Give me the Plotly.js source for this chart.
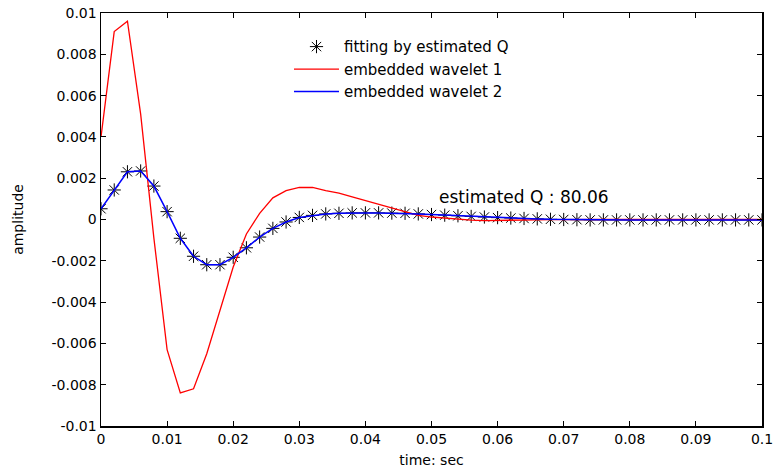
<!DOCTYPE html>
<html><head><meta charset="utf-8">
<script src="https://cdn.plot.ly/plotly-3.0.1.min.js"></script>
<style>html,body{margin:0;padding:0;background:#fff;}#chart{width:774px;height:473px;}</style>
</head><body><div id="chart"></div>
<script>
var timeSec = [0,0.002,0.004,0.006,0.008,0.010,0.012,0.014,0.016,0.018,
  0.020,0.022,0.024,0.026,0.028,0.030,0.032,0.034,0.036,0.038,
  0.040,0.042,0.044,0.046,0.048,0.050,0.052,0.054,0.056,0.058,
  0.060,0.062,0.064,0.066,0.068,0.070,0.072,0.074,0.076,0.078,
  0.080,0.082,0.084,0.086,0.088,0.090,0.092,0.094,0.096,0.098,0.100];

var wavelet1 = [0.0040,0.0091,0.0096,0.0051,-0.0009,-0.0063,-0.0084,-0.0082,-0.0065,-0.0044,
  -0.0023,-0.0007,0.0003,0.00105,0.0014,0.00155,0.00155,0.0014,0.00128,0.0011,
  0.00092,0.00073,0.00055,0.00035,0.0002,0.00012,0.00006,0.0,-0.00003,-0.00005,
  -0.00005,-0.00004,-0.00003,-0.00002,-0.00001,0,0,0,0,0,
  0,0,0,0,0,0,0,0,0,0,0];

var wavelet2 = [0.00052,0.00143,0.00231,0.00235,0.00162,0.00038,-0.00091,-0.00178,-0.00219,-0.00219,
  -0.00183,-0.00137,-0.00085,-0.00043,-0.00012,0.0001,0.0002,0.00027,0.0003,0.00032,
  0.00032,0.00032,0.00031,0.0003,0.00027,0.00024,0.00021,0.00018,0.00015,0.00012,
  0.00009,0.00007,0.00005,0.00003,0.00001,0,-0.00001,-0.00002,-0.00002,-0.00002,
  -0.00002,-0.00002,-0.00002,-0.00002,-0.00002,-0.00002,-0.00002,-0.00002,-0.00002,-0.00002,-0.00002];

var fitEstimatedQ = [0.00052,0.00143,0.00231,0.00235,0.00162,0.00038,-0.00091,-0.00178,-0.00219,-0.00219,
  -0.00183,-0.00137,-0.00085,-0.00043,-0.00012,0.0001,0.0002,0.00027,0.0003,0.00032,
  0.00032,0.00032,0.00031,0.0003,0.00027,0.00024,0.00021,0.00018,0.00015,0.00012,
  0.00009,0.00007,0.00005,0.00003,0.00001,0,-0.00001,-0.00002,-0.00002,-0.00002,
  -0.00002,-0.00002,-0.00002,-0.00002,-0.00002,-0.00002,-0.00002,-0.00002,-0.00002,-0.00002,-0.00002];

var xTickVals = [0,0.01,0.02,0.03,0.04,0.05,0.06,0.07,0.08,0.09,0.1];
var xTickText = ["0","0.01","0.02","0.03","0.04","0.05","0.06","0.07","0.08","0.09","0.1"];
var yTickVals = [0.01,0.008,0.006,0.004,0.002,0,-0.002,-0.004,-0.006,-0.008,-0.01];
var yTickText = ["0.01","0.008","0.006","0.004","0.002","0","-0.002","-0.004","-0.006","-0.008","-0.01"];
var seriesNames = ["fitting by estimated Q","embedded wavelet 1","embedded wavelet 2"];
var annotationText = "estimated Q : 80.06";

var FONT = "DejaVu Sans, Liberation Sans, Arial, sans-serif";

var traces = [
  {x: timeSec, y: fitEstimatedQ, name: seriesNames[0], type: 'scatter', mode: 'markers',
   marker: {symbol: 'asterisk-open', size: 11, color: '#000', line: {color: '#000', width: 1}}},
  {x: timeSec, y: wavelet1, name: seriesNames[1], type: 'scatter', mode: 'lines',
   line: {color: '#ff0000', width: 1.3}},
  {x: timeSec, y: wavelet2, name: seriesNames[2], type: 'scatter', mode: 'lines',
   line: {color: '#0000ff', width: 1.5}}
];

var axisCommon = {
  showgrid: false, zeroline: false, showline: true, linecolor: '#000', linewidth: 1.5,
  mirror: 'ticks', ticks: 'inside', ticklen: 5, tickcolor: '#000', tickwidth: 1,
  tickfont: {family: FONT, size: 14, color: '#000'}, tickmode: 'array'
};

var layout = {
  width: 774, height: 473,
  margin: {l: 101, r: 12, t: 13, b: 47},
  paper_bgcolor: '#fff', plot_bgcolor: '#fff',
  font: {family: FONT, size: 14, color: '#000'},
  showlegend: true,
  legend: {x: 0.2844, y: 0.958, xanchor: 'left', yanchor: 'top', bgcolor: 'rgba(0,0,0,0)',
           itemwidth: 45,
           font: {family: FONT, size: 15, color: '#000'}, tracegroupgap: 0},
  xaxis: Object.assign({}, axisCommon, {range: [0, 0.1], tickvals: xTickVals, ticktext: xTickText,
           title: {text: 'time: sec', font: {family: FONT, size: 14, color: '#000'}, standoff: 9}}),
  yaxis: Object.assign({}, axisCommon, {range: [-0.01, 0.01], tickvals: yTickVals, ticktext: yTickText,
           title: {text: 'amplitude', font: {family: FONT, size: 14, color: '#000'}, standoff: 24}}),
  annotations: [{x: 0.0508, y: 0.00109, xref: 'x', yref: 'y', text: annotationText, showarrow: false,
                 xanchor: 'left', yanchor: 'middle', font: {family: FONT, size: 17, color: '#000'}}]
};

Plotly.newPlot('chart', traces, layout, {displayModeBar: false, staticPlot: true});
</script>
</body></html>
